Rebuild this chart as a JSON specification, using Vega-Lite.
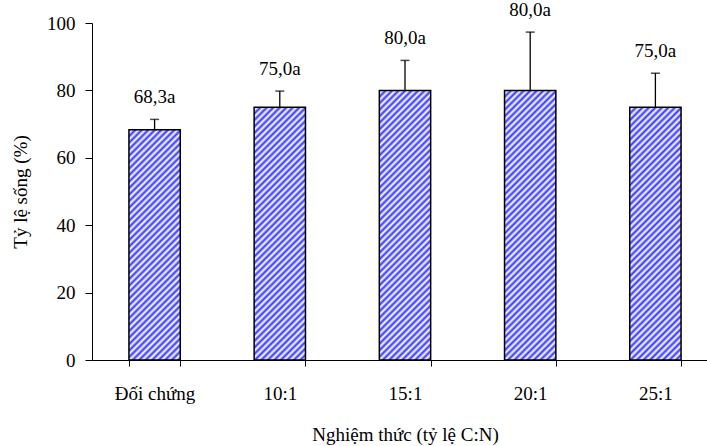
{
  "$schema": "https://vega.github.io/schema/vega-lite/v6.json",
  "width": 626,
  "height": 337,
  "autosize": {"type": "none"},
  "padding": {"left": 92, "top": 23, "right": 0, "bottom": 86},
  "background": "white",
  "config": {
    "font": "Liberation Serif",
    "view": {"stroke": null},
    "axis": {
      "domainColor": "black",
      "tickColor": "black",
      "labelColor": "black",
      "titleColor": "black",
      "labelFont": "Liberation Serif",
      "titleFont": "Liberation Serif",
      "labelFontSize": 19,
      "titleFontSize": 19,
      "titleFontWeight": "normal",
      "grid": false
    }
  },
  "data": {
    "values": [
      {"nt": "Đối chứng", "tl": 68.3, "hi": 71.4, "lab": "68,3a"},
      {"nt": "10:1", "tl": 75.0, "hi": 79.8, "lab": "75,0a"},
      {"nt": "15:1", "tl": 80.0, "hi": 88.9, "lab": "80,0a"},
      {"nt": "20:1", "tl": 80.0, "hi": 97.3, "lab": "80,0a"},
      {"nt": "25:1", "tl": 75.0, "hi": 85.1, "lab": "75,0a"}
    ]
  },
  "encoding": {
    "x": {
      "field": "nt",
      "type": "nominal",
      "sort": null,
      "scale": {"paddingInner": 0.59, "paddingOuter": 0.295},
      "axis": {
        "title": "Nghiệm thức (tỷ lệ C:N)",
        "labelAngle": 0,
        "tickBand": "extent",
        "tickSize": 6,
        "labelPadding": 18,
        "titleY": 80,
        "titleBaseline": "alphabetic"
      }
    }
  },
  "layer": [
    {
      "mark": {"type": "bar", "stroke": "black", "strokeWidth": 1.5},
      "encoding": {
        "y": {
          "field": "tl",
          "type": "quantitative",
          "scale": {"domain": [0, 100], "nice": false},
          "axis": {
            "title": "Tỷ lệ sống (%)",
            "values": [0, 20, 40, 60, 80, 100],
            "tickSize": 7,
            "labelPadding": 10,
            "titleX": -66,
            "titleY": 168.5,
            "titleBaseline": "alphabetic"
          }
        },
        "fill": {
          "condition": [
            {"test": "datum.tl < 70", "value": {"gradient": "linear", "x1": 0, "y1": 0, "x2": 0.2997, "y2": 1.345, "stops": [{"offset":0,"color":"#33f"},{"offset":0.01,"color":"#fff"},{"offset":0.02,"color":"#33f"},{"offset":0.03,"color":"#fff"},{"offset":0.04,"color":"#33f"},{"offset":0.05,"color":"#fff"},{"offset":0.06,"color":"#33f"},{"offset":0.07,"color":"#fff"},{"offset":0.08,"color":"#33f"},{"offset":0.09,"color":"#fff"},{"offset":0.1,"color":"#33f"},{"offset":0.11,"color":"#fff"},{"offset":0.12,"color":"#33f"},{"offset":0.13,"color":"#fff"},{"offset":0.14,"color":"#33f"},{"offset":0.15,"color":"#fff"},{"offset":0.16,"color":"#33f"},{"offset":0.17,"color":"#fff"},{"offset":0.18,"color":"#33f"},{"offset":0.19,"color":"#fff"},{"offset":0.2,"color":"#33f"},{"offset":0.21,"color":"#fff"},{"offset":0.22,"color":"#33f"},{"offset":0.23,"color":"#fff"},{"offset":0.24,"color":"#33f"},{"offset":0.25,"color":"#fff"},{"offset":0.26,"color":"#33f"},{"offset":0.27,"color":"#fff"},{"offset":0.28,"color":"#33f"},{"offset":0.29,"color":"#fff"},{"offset":0.3,"color":"#33f"},{"offset":0.31,"color":"#fff"},{"offset":0.32,"color":"#33f"},{"offset":0.33,"color":"#fff"},{"offset":0.34,"color":"#33f"},{"offset":0.35,"color":"#fff"},{"offset":0.36,"color":"#33f"},{"offset":0.37,"color":"#fff"},{"offset":0.38,"color":"#33f"},{"offset":0.39,"color":"#fff"},{"offset":0.4,"color":"#33f"},{"offset":0.41,"color":"#fff"},{"offset":0.42,"color":"#33f"},{"offset":0.43,"color":"#fff"},{"offset":0.44,"color":"#33f"},{"offset":0.45,"color":"#fff"},{"offset":0.46,"color":"#33f"},{"offset":0.47,"color":"#fff"},{"offset":0.48,"color":"#33f"},{"offset":0.49,"color":"#fff"},{"offset":0.5,"color":"#33f"},{"offset":0.51,"color":"#fff"},{"offset":0.52,"color":"#33f"},{"offset":0.53,"color":"#fff"},{"offset":0.54,"color":"#33f"},{"offset":0.55,"color":"#fff"},{"offset":0.56,"color":"#33f"},{"offset":0.57,"color":"#fff"},{"offset":0.58,"color":"#33f"},{"offset":0.59,"color":"#fff"},{"offset":0.6,"color":"#33f"},{"offset":0.61,"color":"#fff"},{"offset":0.62,"color":"#33f"},{"offset":0.63,"color":"#fff"},{"offset":0.64,"color":"#33f"},{"offset":0.65,"color":"#fff"},{"offset":0.66,"color":"#33f"},{"offset":0.67,"color":"#fff"},{"offset":0.68,"color":"#33f"},{"offset":0.69,"color":"#fff"},{"offset":0.7,"color":"#33f"},{"offset":0.71,"color":"#fff"},{"offset":0.72,"color":"#33f"},{"offset":0.73,"color":"#fff"},{"offset":0.74,"color":"#33f"},{"offset":0.75,"color":"#fff"},{"offset":0.76,"color":"#33f"},{"offset":0.77,"color":"#fff"},{"offset":0.78,"color":"#33f"},{"offset":0.79,"color":"#fff"},{"offset":0.8,"color":"#33f"},{"offset":0.81,"color":"#fff"},{"offset":0.82,"color":"#33f"},{"offset":0.83,"color":"#fff"},{"offset":0.84,"color":"#33f"},{"offset":0.85,"color":"#fff"},{"offset":0.86,"color":"#33f"},{"offset":0.87,"color":"#fff"},{"offset":0.88,"color":"#33f"},{"offset":0.89,"color":"#fff"},{"offset":0.9,"color":"#33f"},{"offset":0.91,"color":"#fff"},{"offset":0.92,"color":"#33f"},{"offset":0.93,"color":"#fff"},{"offset":0.94,"color":"#33f"},{"offset":0.95,"color":"#fff"},{"offset":0.96,"color":"#33f"},{"offset":0.97,"color":"#fff"},{"offset":0.98,"color":"#33f"},{"offset":0.99,"color":"#fff"},{"offset":1,"color":"#33f"}]}},
            {"test": "datum.tl < 77", "value": {"gradient": "linear", "x1": 0, "y1": 0, "x2": 0.2507, "y2": 1.235, "stops": [{"offset":0,"color":"#33f"},{"offset":0.01,"color":"#fff"},{"offset":0.02,"color":"#33f"},{"offset":0.03,"color":"#fff"},{"offset":0.04,"color":"#33f"},{"offset":0.05,"color":"#fff"},{"offset":0.06,"color":"#33f"},{"offset":0.07,"color":"#fff"},{"offset":0.08,"color":"#33f"},{"offset":0.09,"color":"#fff"},{"offset":0.1,"color":"#33f"},{"offset":0.11,"color":"#fff"},{"offset":0.12,"color":"#33f"},{"offset":0.13,"color":"#fff"},{"offset":0.14,"color":"#33f"},{"offset":0.15,"color":"#fff"},{"offset":0.16,"color":"#33f"},{"offset":0.17,"color":"#fff"},{"offset":0.18,"color":"#33f"},{"offset":0.19,"color":"#fff"},{"offset":0.2,"color":"#33f"},{"offset":0.21,"color":"#fff"},{"offset":0.22,"color":"#33f"},{"offset":0.23,"color":"#fff"},{"offset":0.24,"color":"#33f"},{"offset":0.25,"color":"#fff"},{"offset":0.26,"color":"#33f"},{"offset":0.27,"color":"#fff"},{"offset":0.28,"color":"#33f"},{"offset":0.29,"color":"#fff"},{"offset":0.3,"color":"#33f"},{"offset":0.31,"color":"#fff"},{"offset":0.32,"color":"#33f"},{"offset":0.33,"color":"#fff"},{"offset":0.34,"color":"#33f"},{"offset":0.35,"color":"#fff"},{"offset":0.36,"color":"#33f"},{"offset":0.37,"color":"#fff"},{"offset":0.38,"color":"#33f"},{"offset":0.39,"color":"#fff"},{"offset":0.4,"color":"#33f"},{"offset":0.41,"color":"#fff"},{"offset":0.42,"color":"#33f"},{"offset":0.43,"color":"#fff"},{"offset":0.44,"color":"#33f"},{"offset":0.45,"color":"#fff"},{"offset":0.46,"color":"#33f"},{"offset":0.47,"color":"#fff"},{"offset":0.48,"color":"#33f"},{"offset":0.49,"color":"#fff"},{"offset":0.5,"color":"#33f"},{"offset":0.51,"color":"#fff"},{"offset":0.52,"color":"#33f"},{"offset":0.53,"color":"#fff"},{"offset":0.54,"color":"#33f"},{"offset":0.55,"color":"#fff"},{"offset":0.56,"color":"#33f"},{"offset":0.57,"color":"#fff"},{"offset":0.58,"color":"#33f"},{"offset":0.59,"color":"#fff"},{"offset":0.6,"color":"#33f"},{"offset":0.61,"color":"#fff"},{"offset":0.62,"color":"#33f"},{"offset":0.63,"color":"#fff"},{"offset":0.64,"color":"#33f"},{"offset":0.65,"color":"#fff"},{"offset":0.66,"color":"#33f"},{"offset":0.67,"color":"#fff"},{"offset":0.68,"color":"#33f"},{"offset":0.69,"color":"#fff"},{"offset":0.7,"color":"#33f"},{"offset":0.71,"color":"#fff"},{"offset":0.72,"color":"#33f"},{"offset":0.73,"color":"#fff"},{"offset":0.74,"color":"#33f"},{"offset":0.75,"color":"#fff"},{"offset":0.76,"color":"#33f"},{"offset":0.77,"color":"#fff"},{"offset":0.78,"color":"#33f"},{"offset":0.79,"color":"#fff"},{"offset":0.8,"color":"#33f"},{"offset":0.81,"color":"#fff"},{"offset":0.82,"color":"#33f"},{"offset":0.83,"color":"#fff"},{"offset":0.84,"color":"#33f"},{"offset":0.85,"color":"#fff"},{"offset":0.86,"color":"#33f"},{"offset":0.87,"color":"#fff"},{"offset":0.88,"color":"#33f"},{"offset":0.89,"color":"#fff"},{"offset":0.9,"color":"#33f"},{"offset":0.91,"color":"#fff"},{"offset":0.92,"color":"#33f"},{"offset":0.93,"color":"#fff"},{"offset":0.94,"color":"#33f"},{"offset":0.95,"color":"#fff"},{"offset":0.96,"color":"#33f"},{"offset":0.97,"color":"#fff"},{"offset":0.98,"color":"#33f"},{"offset":0.99,"color":"#fff"},{"offset":1,"color":"#33f"}]}}
          ],
          "value": {"gradient": "linear", "x1": 0, "y1": 0, "x2": 0.2214, "y2": 1.1634, "stops": [{"offset":0,"color":"#33f"},{"offset":0.01,"color":"#fff"},{"offset":0.02,"color":"#33f"},{"offset":0.03,"color":"#fff"},{"offset":0.04,"color":"#33f"},{"offset":0.05,"color":"#fff"},{"offset":0.06,"color":"#33f"},{"offset":0.07,"color":"#fff"},{"offset":0.08,"color":"#33f"},{"offset":0.09,"color":"#fff"},{"offset":0.1,"color":"#33f"},{"offset":0.11,"color":"#fff"},{"offset":0.12,"color":"#33f"},{"offset":0.13,"color":"#fff"},{"offset":0.14,"color":"#33f"},{"offset":0.15,"color":"#fff"},{"offset":0.16,"color":"#33f"},{"offset":0.17,"color":"#fff"},{"offset":0.18,"color":"#33f"},{"offset":0.19,"color":"#fff"},{"offset":0.2,"color":"#33f"},{"offset":0.21,"color":"#fff"},{"offset":0.22,"color":"#33f"},{"offset":0.23,"color":"#fff"},{"offset":0.24,"color":"#33f"},{"offset":0.25,"color":"#fff"},{"offset":0.26,"color":"#33f"},{"offset":0.27,"color":"#fff"},{"offset":0.28,"color":"#33f"},{"offset":0.29,"color":"#fff"},{"offset":0.3,"color":"#33f"},{"offset":0.31,"color":"#fff"},{"offset":0.32,"color":"#33f"},{"offset":0.33,"color":"#fff"},{"offset":0.34,"color":"#33f"},{"offset":0.35,"color":"#fff"},{"offset":0.36,"color":"#33f"},{"offset":0.37,"color":"#fff"},{"offset":0.38,"color":"#33f"},{"offset":0.39,"color":"#fff"},{"offset":0.4,"color":"#33f"},{"offset":0.41,"color":"#fff"},{"offset":0.42,"color":"#33f"},{"offset":0.43,"color":"#fff"},{"offset":0.44,"color":"#33f"},{"offset":0.45,"color":"#fff"},{"offset":0.46,"color":"#33f"},{"offset":0.47,"color":"#fff"},{"offset":0.48,"color":"#33f"},{"offset":0.49,"color":"#fff"},{"offset":0.5,"color":"#33f"},{"offset":0.51,"color":"#fff"},{"offset":0.52,"color":"#33f"},{"offset":0.53,"color":"#fff"},{"offset":0.54,"color":"#33f"},{"offset":0.55,"color":"#fff"},{"offset":0.56,"color":"#33f"},{"offset":0.57,"color":"#fff"},{"offset":0.58,"color":"#33f"},{"offset":0.59,"color":"#fff"},{"offset":0.6,"color":"#33f"},{"offset":0.61,"color":"#fff"},{"offset":0.62,"color":"#33f"},{"offset":0.63,"color":"#fff"},{"offset":0.64,"color":"#33f"},{"offset":0.65,"color":"#fff"},{"offset":0.66,"color":"#33f"},{"offset":0.67,"color":"#fff"},{"offset":0.68,"color":"#33f"},{"offset":0.69,"color":"#fff"},{"offset":0.7,"color":"#33f"},{"offset":0.71,"color":"#fff"},{"offset":0.72,"color":"#33f"},{"offset":0.73,"color":"#fff"},{"offset":0.74,"color":"#33f"},{"offset":0.75,"color":"#fff"},{"offset":0.76,"color":"#33f"},{"offset":0.77,"color":"#fff"},{"offset":0.78,"color":"#33f"},{"offset":0.79,"color":"#fff"},{"offset":0.8,"color":"#33f"},{"offset":0.81,"color":"#fff"},{"offset":0.82,"color":"#33f"},{"offset":0.83,"color":"#fff"},{"offset":0.84,"color":"#33f"},{"offset":0.85,"color":"#fff"},{"offset":0.86,"color":"#33f"},{"offset":0.87,"color":"#fff"},{"offset":0.88,"color":"#33f"},{"offset":0.89,"color":"#fff"},{"offset":0.9,"color":"#33f"},{"offset":0.91,"color":"#fff"},{"offset":0.92,"color":"#33f"},{"offset":0.93,"color":"#fff"},{"offset":0.94,"color":"#33f"},{"offset":0.95,"color":"#fff"},{"offset":0.96,"color":"#33f"},{"offset":0.97,"color":"#fff"},{"offset":0.98,"color":"#33f"},{"offset":0.99,"color":"#fff"},{"offset":1,"color":"#33f"}]}
        }
      }
    },
    {
      "mark": {"type": "rule", "color": "black", "strokeWidth": 1.3},
      "encoding": {
        "y": {"field": "tl", "type": "quantitative"},
        "y2": {"field": "hi"}
      }
    },
    {
      "mark": {"type": "tick", "color": "black", "size": 9, "thickness": 1.5},
      "encoding": {
        "y": {"field": "hi", "type": "quantitative"}
      }
    },
    {
      "mark": {"type": "text", "color": "black", "font": "Liberation Serif", "fontSize": 19, "baseline": "alphabetic", "dy": -16.5},
      "encoding": {
        "y": {"field": "hi", "type": "quantitative"},
        "text": {"field": "lab"}
      }
    }
  ]
}
